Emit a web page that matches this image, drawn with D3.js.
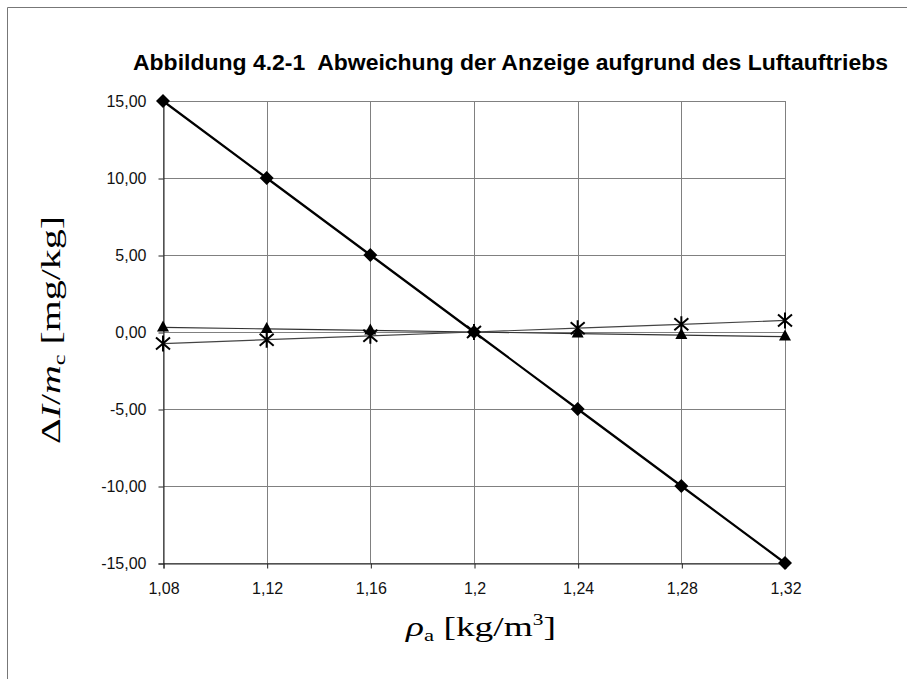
<!DOCTYPE html>
<html lang="de">
<head>
<meta charset="UTF-8">
<title>Abweichung der Anzeige aufgrund des Luftauftriebs</title>
<script src="https://cdnjs.cloudflare.com/ajax/libs/d3/7.8.5/d3.min.js"></script>
<style>
    body { margin: 0; background: #fff; }
    svg { display: block; }
</style>
</head>
<body>
<div id="chart"></div>
<script>
    // data
    const rho = [1.08, 1.12, 1.16, 1.2, 1.24, 1.28, 1.32];
    const seriesDiamond = [15, 10, 5, 0, -5, -10, -15];
    const seriesTriangle = [0.3, 0.2, 0.1, 0, -0.1, -0.2, -0.3];
    const seriesStar = [-0.75, -0.5, -0.25, 0, 0.25, 0.5, 0.75];
    const yTicks = [-15, -10, -5, 0, 5, 10, 15];

    const width = 907, height = 679;
    const plot = { left: 163, right: 785, top: 101, bottom: 563 };

    const de = d3.formatLocale({ decimal: ",", thousands: ".", grouping: [3], currency: ["", " €"], minus: "-" });
    const fmtY = de.format(".2f");
    const fmtX = de.format(".2~f");

    const svg = d3.select("#chart").append("svg")
        .attr("width", width).attr("height", height);

    // frame around the figure
    svg.append("path")
        .attr("d", `M7.5,${height} V7.5 H${width}`)
        .attr("fill", "none").attr("stroke", "#777").attr("stroke-width", 1);

    const x = d3.scaleLinear().domain([1.08, 1.32]).range([plot.left, plot.right]);
    const y = d3.scaleLinear().domain([-15, 15]).range([plot.bottom, plot.top]);

    // grid
    const grid = svg.append("g").attr("stroke", "#808080").attr("stroke-width", 1);
    grid.selectAll(".gx").data(rho).enter().append("line")
        .attr("x1", d => Math.round(x(d)) + 0.5).attr("x2", d => Math.round(x(d)) + 0.5)
        .attr("y1", plot.top).attr("y2", plot.bottom);
    grid.selectAll(".gy").data(yTicks).enter().append("line")
        .attr("y1", d => Math.round(y(d)) + 0.5).attr("y2", d => Math.round(y(d)) + 0.5)
        .attr("x1", plot.left).attr("x2", plot.right);

    // axes
    const yAxis = svg.append("g")
        .attr("transform", `translate(${plot.left + 0.5},0.5)`)
        .call(d3.axisLeft(y).tickValues(yTicks).tickFormat(fmtY).tickSize(5).tickPadding(12));
    const xAxis = svg.append("g")
        .attr("transform", `translate(0.5,${plot.bottom + 0.5})`)
        .call(d3.axisBottom(x).tickValues(rho).tickFormat(fmtX).tickSize(5).tickPadding(14));
    [yAxis, xAxis].forEach(a => {
        a.selectAll("path, line").attr("stroke", "#222");
        a.selectAll("text").attr("font-family", "Liberation Sans, Arial, sans-serif")
            .attr("font-size", 16).attr("fill", "#111");
    });

    // series
    const line = d3.line().x((d, i) => x(rho[i])).y(d => y(d));
    svg.append("path").datum(seriesTriangle).attr("d", line)
        .attr("fill", "none").attr("stroke", "#333").attr("stroke-width", 1.2);
    svg.append("path").datum(seriesStar).attr("d", line)
        .attr("fill", "none").attr("stroke", "#444").attr("stroke-width", 1.2);
    svg.append("path").datum(seriesDiamond).attr("d", line)
        .attr("fill", "none").attr("stroke", "#000").attr("stroke-width", 2.2);

    svg.selectAll(".tri").data(seriesTriangle).enter().append("path")
        .attr("transform", (d, i) => `translate(${x(rho[i])},${y(d)})`)
        .attr("d", "M0,-7L6,4L-6,4Z").attr("fill", "#000");

    const star = "M-7,-6L7,6M-7,6L7,-6M0,-8V8";
    svg.selectAll(".star").data(seriesStar).enter().append("path")
        .attr("transform", (d, i) => `translate(${x(rho[i])},${y(d)})`)
        .attr("d", star).attr("fill", "none").attr("stroke", "#000").attr("stroke-width", 2);

    svg.selectAll(".dia").data(seriesDiamond).enter().append("path")
        .attr("transform", (d, i) => `translate(${x(rho[i])},${y(d)})`)
        .attr("d", "M0,-7L7,0L0,7L-7,0Z").attr("fill", "#000");

    // title
    svg.append("text")
        .attr("x", 133).attr("y", 70)
        .attr("font-family", "Liberation Sans, Arial, sans-serif")
        .attr("font-weight", "bold").attr("font-size", 22).attr("fill", "#000")
        .attr("textLength", 755).attr("lengthAdjust", "spacingAndGlyphs")
        .attr("xml:space", "preserve")
        .text("Abbildung 4.2-1  Abweichung der Anzeige aufgrund des Luftauftriebs");

    // y axis title
    const yt = svg.append("text")
        .attr("transform", "translate(60,444) rotate(-90)")
        .attr("font-family", "Liberation Serif, Times New Roman, serif")
        .attr("font-size", 28).attr("fill", "#000")
        .attr("textLength", 228).attr("lengthAdjust", "spacingAndGlyphs");
    yt.append("tspan").text("\u0394");
    yt.append("tspan").attr("font-style", "italic").text("I");
    yt.append("tspan").text("/");
    yt.append("tspan").attr("font-style", "italic").text("m");
    yt.append("tspan").attr("font-size", 17).attr("dy", 5).text("c");
    yt.append("tspan").attr("dy", -5).text(" [mg/kg]");

    // x axis title
    const xt = svg.append("text")
        .attr("x", 406).attr("y", 636)
        .attr("font-family", "Liberation Serif, Times New Roman, serif")
        .attr("font-size", 28).attr("fill", "#000")
        .attr("textLength", 150).attr("lengthAdjust", "spacingAndGlyphs");
    xt.append("tspan").attr("font-style", "italic").text("\u03C1");
    xt.append("tspan").attr("font-size", 17).attr("dy", 5).text("a");
    xt.append("tspan").attr("dy", -5).text(" [kg/m");
    xt.append("tspan").attr("font-size", 16).attr("dy", -11).text("3");
    xt.append("tspan").attr("dy", 11).text("]");
</script>
</body>
</html>
